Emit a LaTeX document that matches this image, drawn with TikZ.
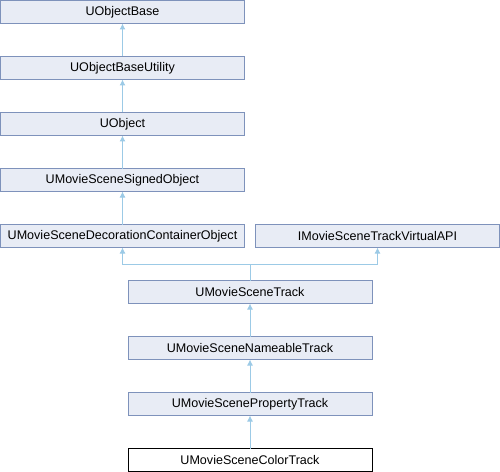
\documentclass[tikz,border=0pt]{standalone}
\usepackage{fontspec}
\setmainfont{Liberation Sans}
\usetikzlibrary{positioning,arrows.meta,calc}
\definecolor{boxfill}{HTML}{E8ECF5}
\definecolor{boxline}{HTML}{7E92BB}
\definecolor{edgeblue}{HTML}{9CCAE6}

\begin{document}
\begin{tikzpicture}[x=1bp, y=1bp, node distance=33bp and 11bp,
  every node/.style={font=\fontsize{12.6}{14}\selectfont},
  cls/.style={draw=boxline, fill=boxfill, line width=1bp, minimum width=244bp, minimum height=23bp, inner sep=0pt, outer sep=0pt},
  cur/.style={cls, draw=black, fill=white},
  arr/.style={{Latex[length=6bp, width=6bp]}-, draw=edgeblue, line width=1bp}]
\useasboundingbox (0,0) rectangle (500,-472);
\node[cls] (base) at (122.5,-12) {UObjectBase};
\node[cls, below=of base] (util) {UObjectBaseUtility};
\node[cls, below=of util] (uobj) {UObject};
\node[cls, below=of uobj] (signed) {UMovieSceneSignedObject};
\node[cls, below=of signed] (decor) {UMovieSceneDecorationContainerObject};
\node[cls, right=of decor] (api) {IMovieSceneTrackVirtualAPI};
\node[cls, below=of {$(decor.south east)!.5!(api.south west)$}, anchor=north] (track) {UMovieSceneTrack};
\node[cls, below=of track] (nameable) {UMovieSceneNameableTrack};
\node[cls, below=of nameable] (prop) {UMovieScenePropertyTrack};
\node[cur, below=of prop] (color) {UMovieSceneColorTrack};
\coordinate (join) at ($(track.north)+(0,16)$);
\draw[arr] (base) -- (util); \draw[arr] (util) -- (uobj); \draw[arr] (uobj) -- (signed);
\draw[arr] (signed) -- (decor);
\draw[arr] (decor.south) |- (join) -- (track.north); \draw[arr] (api.south) |- (join);
\draw[arr] (track) -- (nameable); \draw[arr] (nameable) -- (prop); \draw[arr] (prop) -- (color);
\end{tikzpicture}
\end{document}
